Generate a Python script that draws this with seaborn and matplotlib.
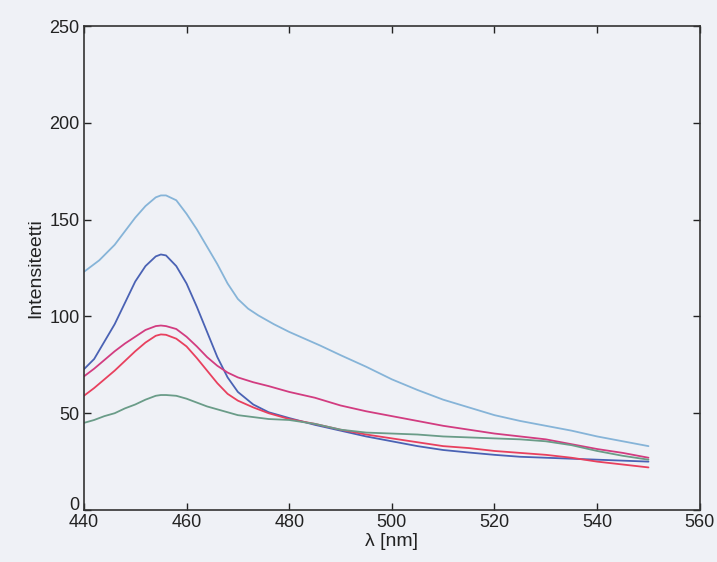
import numpy as np
import pandas as pd
import matplotlib
matplotlib.use("Agg")
import matplotlib.pyplot as plt
import matplotlib.transforms as mtransforms
import seaborn as sns

# ---- data ----
wl_light_blue = [440, 443, 446, 448, 450, 452, 454, 455, 456, 458, 460, 462, 464, 466, 468, 470, 472,
                 474, 477, 480, 483, 486, 490, 495, 500, 505, 510, 515, 520, 525, 530, 535, 540, 545, 550]
light_blue = [123, 129, 137, 144, 151, 157, 161.5, 162.5, 162.5, 160, 153, 145, 136, 127, 117, 109, 104,
              100.5, 96, 92, 88.5, 85, 80, 74, 67.5, 62, 57, 53, 49, 46, 43.5, 41, 38, 35.5, 33]

wl_common = [440, 442, 444, 446, 448, 450, 452, 454, 455, 456, 458, 460, 462, 464, 466, 468, 470,
             473, 476, 480, 485, 490, 495, 500, 505, 510, 515, 520, 525, 530, 535, 540, 545, 550]
dark_blue = [72.7, 78, 87, 96, 107, 118, 126, 131, 132, 131.5, 126, 117, 105, 92, 79, 68.5, 61,
             54.5, 50.5, 47.5, 44, 41, 38, 35.5, 33, 31, 29.7, 28.5, 27.5, 27, 26.5, 26, 25.5, 25]
magenta = [69, 73, 77.5, 82, 86, 89.5, 93, 95, 95.3, 95, 93.5, 89.5, 84.5, 79, 74.5, 71, 68.5,
           66, 64, 61, 58, 54, 51, 48.5, 46, 43.5, 41.5, 39.5, 38, 36.5, 34, 31.5, 29.5, 27]
red = [59, 63, 67.5, 72, 77, 82, 86.5, 90, 90.7, 90.5, 88.5, 84.5, 78.5, 72, 65.5, 60, 56.5,
       53, 50, 47, 44.5, 41.5, 39, 37, 35, 33, 32, 30.5, 29.5, 28.5, 27, 25, 23.5, 22]
green = [45, 46.5, 48.5, 50, 52.5, 54.5, 57, 59, 59.4, 59.4, 59, 57.5, 55.5, 53.5, 52, 50.5, 49,
         48, 47, 46.5, 44.5, 41.5, 40, 39.5, 39, 38, 37.5, 37, 36.5, 35.5, 33.5, 30.5, 28, 26]

x_ticks = [440, 460, 480, 500, 520, 540, 560]
y_ticks = [0, 50, 100, 150, 200, 250]

frames = [pd.DataFrame({"wl": wl_light_blue, "I": light_blue, "s": "a"})]
for name, vals in [("b", dark_blue), ("c", magenta), ("d", red), ("e", green)]:
    frames.append(pd.DataFrame({"wl": wl_common, "I": vals, "s": name}))
df = pd.concat(frames, ignore_index=True)

palette = {"a": "#86b4d8", "b": "#4a62b4", "c": "#d23c80", "d": "#e8405e", "e": "#6a9c88"}

sns.set_style("white")
plt.rcParams['font.family'] = ['Liberation Sans', 'DejaVu Sans']

bg = "#eff1f6"
fig = plt.figure(figsize=(7.17, 5.62), dpi=100, facecolor=bg)
ax = fig.add_axes([0.117, 0.0925, 0.859, 0.8612])
ax.set_facecolor(bg)

sns.lineplot(data=df, x="wl", y="I", hue="s", palette=palette, ax=ax,
             legend=False, linewidth=1.3, sort=True, estimator=None)

ax.set_xlim(440, 560)
ax.set_ylim(0, 250)
ax.set_xticks(x_ticks)
ax.set_yticks(y_ticks)
ax.tick_params(direction="in", length=5, width=1, labelsize=13, colors="#222222",
               top=True, right=True, bottom=True, left=True, pad=3)
for sp in ax.spines.values():
    sp.set_color("#333333")
    sp.set_linewidth(1.2)
    sp.set_visible(True)
ax.set_xlabel("λ [nm]", fontsize=14, color="#222222", labelpad=1)
ax.set_ylabel("Intensiteetti", fontsize=14, color="#222222", labelpad=4)

# lift the "0" label slightly so it sits just above the "440" label
fig.canvas.draw()
zero_lbl = ax.get_yticklabels()[0]
zero_lbl.set_transform(zero_lbl.get_transform() +
                       mtransforms.ScaledTranslation(0, 5 / 72, fig.dpi_scale_trans))

fig.savefig("out.png", dpi=100, facecolor=bg)
